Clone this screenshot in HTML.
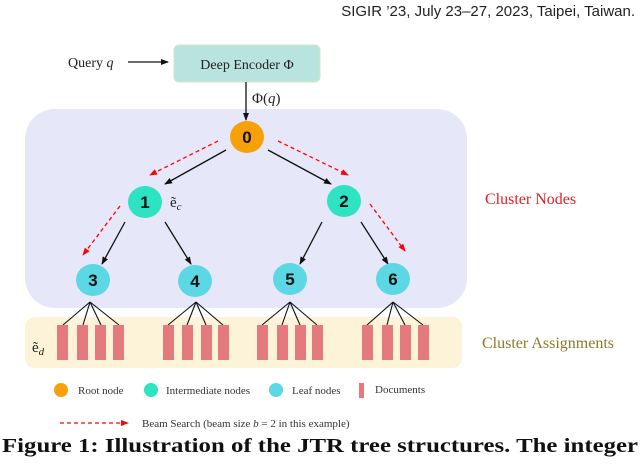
<!DOCTYPE html><html><head><style>body{margin:0;width:640px;height:460px;background:#fff;overflow:hidden}</style></head><body>
<svg width="640" height="460" xmlns="http://www.w3.org/2000/svg" font-family="Liberation Serif, serif">
<defs>
<marker id="ab" markerWidth="8" markerHeight="8" refX="7" refY="4" orient="auto" markerUnits="userSpaceOnUse"><path d="M0,1 L8,4 L0,7z" fill="#111"/></marker>
<marker id="ar" markerWidth="8" markerHeight="8" refX="7" refY="4" orient="auto" markerUnits="userSpaceOnUse"><path d="M0,1 L8,4 L0,7z" fill="#f00"/></marker>
</defs>
<text x="635" y="16" text-anchor="end" font-family="Liberation Sans, sans-serif" font-size="15" fill="#222">SIGIR ’23, July 23–27, 2023, Taipei, Taiwan.</text>
<rect x="25" y="109" width="442" height="199" rx="30" fill="#e6e7f8"/>
<rect x="25" y="317" width="437" height="51" rx="10" fill="#fdf3d8"/>
<rect x="174" y="45" width="146" height="37" rx="5" fill="#b9e3df" stroke="#cfe8c4"/>
<text x="247" y="69" text-anchor="middle" font-size="14" fill="#222">Deep Encoder Φ</text>
<text x="68" y="67" font-size="14" fill="#222">Query <tspan font-style="italic">q</tspan></text>
<line x1="128" y1="62" x2="168" y2="62" stroke="#111" stroke-width="1.3" marker-end="url(#ab)"/>
<line x1="246" y1="82" x2="246" y2="120" stroke="#111" stroke-width="1.3" marker-end="url(#ab)"/>
<text x="252" y="103" font-size="15" fill="#222">Φ(<tspan font-style="italic">q</tspan>)</text>
<g stroke="#111" stroke-width="1.3" marker-end="url(#ab)">
<line x1="226" y1="150" x2="165" y2="184"/><line x1="268" y1="150" x2="331" y2="184"/>
<line x1="125" y1="222" x2="102" y2="264"/><line x1="165" y1="222" x2="191" y2="264"/>
<line x1="322" y1="222" x2="300" y2="264"/><line x1="361" y1="222" x2="388" y2="264"/>
</g>
<g stroke="#f00" stroke-width="1.3" stroke-dasharray="4,3" marker-end="url(#ar)">
<line x1="218" y1="141" x2="150" y2="175"/><line x1="278" y1="141" x2="348" y2="175"/>
<line x1="120" y1="206" x2="83" y2="255"/><line x1="370" y1="204" x2="405" y2="251"/>
</g>
<g font-family="Liberation Sans, sans-serif" font-weight="bold" font-size="17" text-anchor="middle" fill="#111">
<ellipse cx="247" cy="137" rx="17" ry="16" fill="#f7a10a"/><text x="247" y="143">0</text>
<ellipse cx="145" cy="202" rx="17" ry="16" fill="#2de3c2"/><text x="145" y="208">1</text>
<ellipse cx="344" cy="201" rx="17" ry="16" fill="#2de3c2"/><text x="344" y="207">2</text>
<ellipse cx="93" cy="280" rx="17" ry="16" fill="#5bd8e4"/><text x="93" y="286">3</text>
<ellipse cx="195" cy="281" rx="17" ry="16" fill="#5bd8e4"/><text x="195" y="287">4</text>
<ellipse cx="290" cy="279" rx="17" ry="16" fill="#5bd8e4"/><text x="290" y="285">5</text>
<ellipse cx="393" cy="279" rx="17" ry="16" fill="#5bd8e4"/><text x="393" y="285">6</text>
</g>
<text x="170" y="207" font-size="15" fill="#222">ẽ<tspan font-style="italic" font-size="11" dy="3">c</tspan></text>
<text x="32" y="352" font-size="15" fill="#222">ẽ<tspan font-style="italic" font-size="11" dy="3">d</tspan></text>
<g stroke="#111" stroke-width="1.1">
<line x1="90" y1="302" x2="63" y2="325"/><line x1="90" y1="302" x2="83" y2="325"/><line x1="90" y1="302" x2="101" y2="325"/><line x1="90" y1="302" x2="119" y2="325"/>
<line x1="196" y1="302" x2="168" y2="325"/><line x1="196" y1="302" x2="187" y2="325"/><line x1="196" y1="302" x2="206" y2="325"/><line x1="196" y1="302" x2="223" y2="325"/>
<line x1="290" y1="302" x2="262" y2="325"/><line x1="290" y1="302" x2="282" y2="325"/><line x1="290" y1="302" x2="300" y2="325"/><line x1="290" y1="302" x2="317" y2="325"/>
<line x1="393" y1="302" x2="367" y2="325"/><line x1="393" y1="302" x2="387" y2="325"/><line x1="393" y1="302" x2="405" y2="325"/><line x1="393" y1="302" x2="423" y2="325"/>
</g>
<g fill="#e57a7e">
<rect x="57" y="325" width="11" height="35"/><rect x="77" y="325" width="11" height="35"/><rect x="95" y="325" width="11" height="35"/><rect x="113" y="325" width="11" height="35"/>
<rect x="163" y="325" width="11" height="35"/><rect x="182" y="325" width="11" height="35"/><rect x="201" y="325" width="11" height="35"/><rect x="218" y="325" width="11" height="35"/>
<rect x="257" y="325" width="11" height="35"/><rect x="277" y="325" width="11" height="35"/><rect x="295" y="325" width="11" height="35"/><rect x="312" y="325" width="11" height="35"/>
<rect x="362" y="325" width="11" height="35"/><rect x="382" y="325" width="11" height="35"/><rect x="400" y="325" width="11" height="35"/><rect x="418" y="325" width="11" height="35"/>
</g>
<text x="485" y="204" font-size="16" fill="#e02020">Cluster Nodes</text>
<text x="482" y="348" font-size="16" fill="#8b7a2a">Cluster Assignments</text>
<g font-size="11" fill="#333">
<circle cx="61" cy="390" r="7" fill="#f7a10a"/><text x="78" y="394">Root node</text>
<circle cx="151" cy="390" r="7" fill="#2de3c2"/><text x="166" y="394">Intermediate nodes</text>
<circle cx="276" cy="390" r="7" fill="#5bd8e4"/><text x="292" y="394">Leaf nodes</text>
<rect x="359" y="383" width="5" height="15" fill="#e57a7e"/><text x="375" y="393">Documents</text>
<line x1="60" y1="423" x2="128" y2="423" stroke="#f00" stroke-width="1.2" stroke-dasharray="4,3" marker-end="url(#ar)"/>
<text x="142" y="427">Beam Search (beam size <tspan font-style="italic">b</tspan> = 2 in this example)</text>
</g>
<text x="2" y="452" font-size="20" font-weight="bold" fill="#111" textLength="636" lengthAdjust="spacingAndGlyphs">Figure 1: Illustration of the JTR tree structures. The integer</text>
</svg>
</body></html>
